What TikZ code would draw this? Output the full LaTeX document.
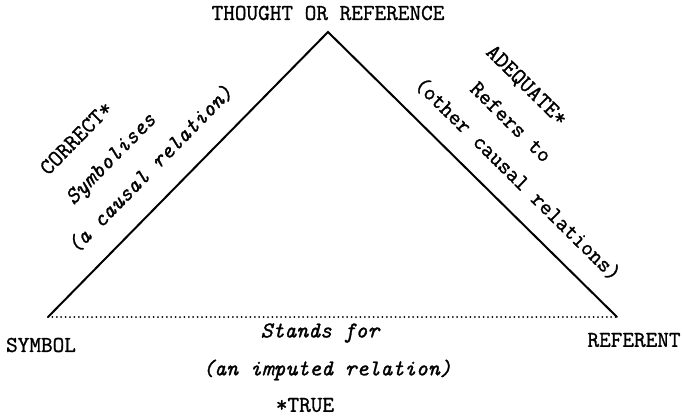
\documentclass[tikz,border=0pt]{standalone}
\usepackage{fontspec}
\setmonofont{Latin Modern Mono}[FakeBold=1.2]
\begin{document}
\begin{tikzpicture}[x=1pt,y=-1pt,
  lab/.style={inner sep=0pt, font=\fontsize{22.6}{26}\selectfont\ttfamily},
  ilab/.style={lab, font=\fontsize{22.6}{26}\selectfont\ttfamily\itshape},
  edge/.style={line width=2pt, line cap=round, line join=miter},
  base/.style={line width=2pt, line cap=round, dash pattern=on 0pt off 4.4pt}]
\useasboundingbox (0,0) rectangle (683,416);
\coordinate (T) at (328,32);
\coordinate (S) at (48,317);
\coordinate (R) at (617,317);
\draw[edge] (S) -- (T) -- (R);
\draw[base] (S) -- (R);
\node[lab] (thought) at (328,13) {THOUGHT OR REFERENCE};
\node[lab] (symbol) at (41,345) {SYMBOL};
\node[lab] (referent) at (634,340) {REFERENT};
\node[ilab] (stands) at (320,333) {Stands for};
\node[ilab] (imputed) at (327,370) {(an imputed relation)};
\node[lab] (true) at (305,405) {*TRUE};
\node[lab, rotate=45.5] (correct) at (76,138) {CORRECT*};
\node[ilab, rotate=45.5] (symbolises) at (112,160) {Symbolises};
\node[ilab, rotate=45.5] (causal) at (150,169) {(a causal relation)};
\node[lab, rotate=-44.6] (adequate) at (526,86) {ADEQUATE*};
\node[lab, rotate=-44.6] (refers) at (511,122) {Refers to};
\node[lab, rotate=-44.6] (other) at (518,179) {(other causal relations)};
\end{tikzpicture}
\end{document}
